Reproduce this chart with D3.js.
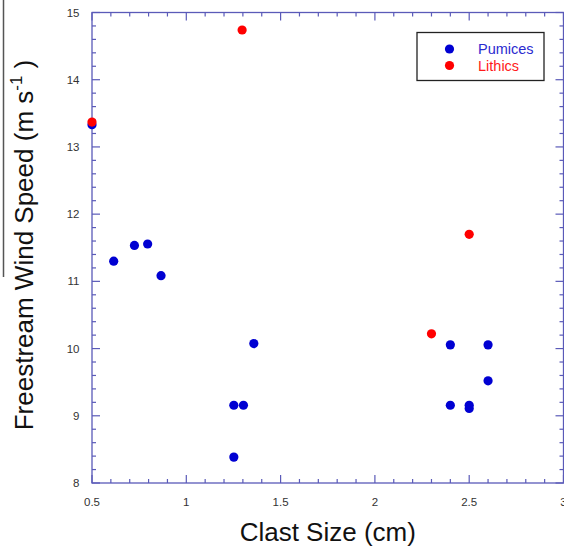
<!DOCTYPE html>
<html>
<head>
<meta charset="utf-8">
<script src="https://cdn.jsdelivr.net/npm/d3@7"></script>
<style>
  html, body { margin: 0; padding: 0; background: #fff; }
  svg { display: block; font-family: "Liberation Sans", Arial, sans-serif; }
</style>
</head>
<body>
<svg id="chart" width="564" height="551"></svg>
<script>
// Clast size (cm) vs freestream wind speed (m/s)
const pumiceSize  = [0.50, 0.615, 0.725, 0.795, 0.866, 1.252, 1.303, 1.252, 1.358, 2.40, 2.40, 2.50, 2.50, 2.60, 2.60];
const pumiceSpeed = [13.33, 11.30, 11.535, 11.556, 11.085, 9.157, 9.157, 8.385, 10.074, 10.055, 9.157, 9.157, 9.11, 10.055, 9.52];

const lithicSize  = [0.50, 1.296, 2.30, 2.50];
const lithicSpeed = [13.37, 14.74, 10.22, 11.70];

const xTicks = [0.5, 1, 1.5, 2, 2.5, 3];
const yTicks = [8, 9, 10, 11, 12, 13, 14, 15];
const seriesNames = ["Pumices", "Lithics"];
const seriesColors = ["#0000d2", "#ff0000"];
const seriesTextColors = ["#2b2bd0", "#ff1a1a"];

const svg = d3.select("#chart");
const plot = { left: 92, right: 563.5, top: 12.5, bottom: 483 };
const axisColor = "#5a5ab8";

const x = d3.scaleLinear().domain([0.5, 3]).range([plot.left, plot.right]);
const y = d3.scaleLinear().domain([8, 15]).range([plot.bottom, plot.top]);

const xMinor = d3.range(0.5, 3.0001, 0.1).map(v => +v.toFixed(2));
const yMinor = d3.range(8, 15.0001, 0.2).map(v => +v.toFixed(2));
const isMajor = (v, ticks) => ticks.some(t => Math.abs(t - v) < 1e-6);

// Frame
svg.append("rect")
  .attr("x", plot.left).attr("y", plot.top)
  .attr("width", plot.right - plot.left).attr("height", plot.bottom - plot.top)
  .attr("fill", "none").attr("stroke", axisColor).attr("stroke-width", 1.3);

// Inward ticks on all four sides
const tickG = svg.append("g").attr("stroke", axisColor).attr("stroke-width", 1.2);
xMinor.forEach(v => {
  const len = isMajor(v, xTicks) ? 8 : 4;
  tickG.append("line").attr("x1", x(v)).attr("x2", x(v)).attr("y1", plot.bottom).attr("y2", plot.bottom - len);
  tickG.append("line").attr("x1", x(v)).attr("x2", x(v)).attr("y1", plot.top).attr("y2", plot.top + len);
});
yMinor.forEach(v => {
  const len = isMajor(v, yTicks) ? 8 : 4;
  tickG.append("line").attr("y1", y(v)).attr("y2", y(v)).attr("x1", plot.left).attr("x2", plot.left + len);
  tickG.append("line").attr("y1", y(v)).attr("y2", y(v)).attr("x1", plot.right).attr("x2", plot.right - len);
});

// Tick labels
svg.append("g").selectAll("text").data(xTicks).join("text")
  .attr("x", d => x(d)).attr("y", 506)
  .attr("text-anchor", "middle").attr("font-size", 11.5).attr("fill", "#333")
  .text(d => d);
svg.append("g").selectAll("text").data(yTicks).join("text")
  .attr("x", 79.5).attr("y", d => y(d) + 4)
  .attr("text-anchor", "end").attr("font-size", 11.5).attr("fill", "#333")
  .text(d => d);

// Axis titles
svg.append("text")
  .attr("x", (plot.left + plot.right) / 2).attr("y", 541)
  .attr("text-anchor", "middle").attr("font-size", 26).attr("fill", "#111")
  .text("Clast Size (cm)");

const yTitle = svg.append("text")
  .attr("transform", "translate(33,245) rotate(-90)")
  .attr("text-anchor", "middle").attr("font-size", 26).attr("fill", "#111");
yTitle.append("tspan").text("Freestream Wind Speed (m s");
yTitle.append("tspan").attr("font-size", 17).attr("dy", -11).text("-1");
yTitle.append("tspan").attr("dy", 11).text(" )");

// Overline bar next to the y title
svg.append("line")
  .attr("x1", 3.5).attr("x2", 3.5).attr("y1", 0).attr("y2", 277)
  .attr("stroke", "#555").attr("stroke-width", 1.5);

// Points
const r = 4.6;
svg.append("g").selectAll("circle").data(d3.zip(pumiceSize, pumiceSpeed)).join("circle")
  .attr("cx", d => x(d[0])).attr("cy", d => y(d[1])).attr("r", r)
  .attr("fill", seriesColors[0]);
svg.append("g").selectAll("circle").data(d3.zip(lithicSize, lithicSpeed)).join("circle")
  .attr("cx", d => x(d[0])).attr("cy", d => y(d[1])).attr("r", r)
  .attr("fill", seriesColors[1]);

// Legend
const legend = svg.append("g");
legend.append("rect")
  .attr("x", 417).attr("y", 32.5).attr("width", 127).attr("height", 48)
  .attr("fill", "#fff").attr("stroke", "#222").attr("stroke-width", 1.3);
seriesNames.forEach((name, i) => {
  const cy = 49 + i * 16.5;
  legend.append("circle").attr("cx", 449.5).attr("cy", cy).attr("r", r).attr("fill", seriesColors[i]);
  legend.append("text").attr("x", 478).attr("y", cy + 5)
    .attr("font-size", 14.5).attr("fill", seriesTextColors[i]).text(name);
});
</script>
</body>
</html>
